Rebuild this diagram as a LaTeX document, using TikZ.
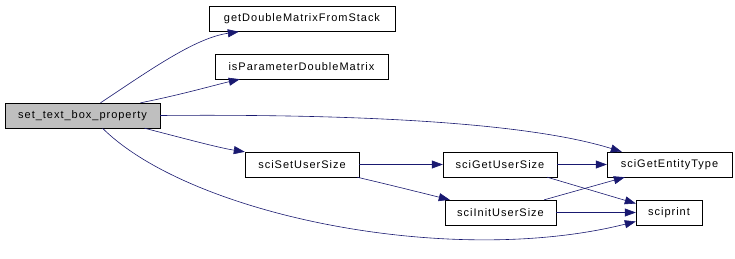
\documentclass[tikz,border=0pt]{standalone}
\usepackage{fontspec}
\setmainfont{Liberation Sans}[LetterSpace=9]
\usetikzlibrary{arrows.meta}
\definecolor{edgeblue}{RGB}{25,25,112}
\definecolor{rootgray}{RGB}{191,191,191}

\begin{document}
\begin{tikzpicture}[x=1pt,y=-1pt,
  fnbox/.style={rectangle, draw, fill=white, font=\fontsize{11}{13}\selectfont, inner sep=0pt, minimum height=25pt},
  call/.style={edgeblue, line width=0.6pt, -{Triangle[length=11pt,width=8pt]}}]
\useasboundingbox (0,0) rectangle (735,258);
% Functions
\node[fnbox, fill=rootgray, minimum width=155pt] (root) at (82.5,115.5) {set\_text\_box\_property};
\node[fnbox, minimum width=186pt] (getdbl) at (302,19) {getDoubleMatrixFromStack};
\node[fnbox, minimum width=173pt] (ispar) at (301.5,66.5) {isParameterDoubleMatrix};
\node[fnbox, minimum width=114pt] (setsize) at (302,164.5) {sciSetUserSize};
\node[fnbox, minimum width=114pt] (getsize) at (500,164.5) {sciGetUserSize};
\node[fnbox, minimum width=111pt] (initsize) at (500.5,212.5) {sciInitUserSize};
\node[fnbox, minimum width=125pt] (entity) at (669.5,164.5) {sciGetEntityType};
\node[fnbox, minimum width=66pt] (print) at (669,212.5) {sciprint};

% Calls
\draw[call] ([xshift=18pt]root.north) .. controls (150,70) and (195,38) .. ([xshift=30pt]getdbl.south west);
\draw[call] ([xshift=58pt]root.north) .. controls (180,95) and (215,85) .. ([xshift=25pt]ispar.south west);
\draw[call] (root.east) .. controls (330,114) and (520,120) .. ([xshift=15pt]entity.north west);
\draw[call] ([xshift=62pt]root.south) .. controls (190,140) and (220,148) .. (setsize.north west);
\draw[call] ([xshift=20pt]root.south) .. controls (190,215) and (450,268) .. ([yshift=-9pt]print.west);
\draw[call] (setsize) -- (getsize);
\draw[call] ([xshift=-2pt]setsize.south east) .. controls (390,185) .. ([xshift=5pt]initsize.north west);
\draw[call] (getsize) -- (entity);
\draw[call] ([xshift=-10pt]getsize.south east) -- ([yshift=9pt]print.west);
\draw[call] ([xshift=-12pt]initsize.north east) -- ([xshift=18pt]entity.south west);
\draw[call] (initsize) -- (print);
\end{tikzpicture}
\end{document}
